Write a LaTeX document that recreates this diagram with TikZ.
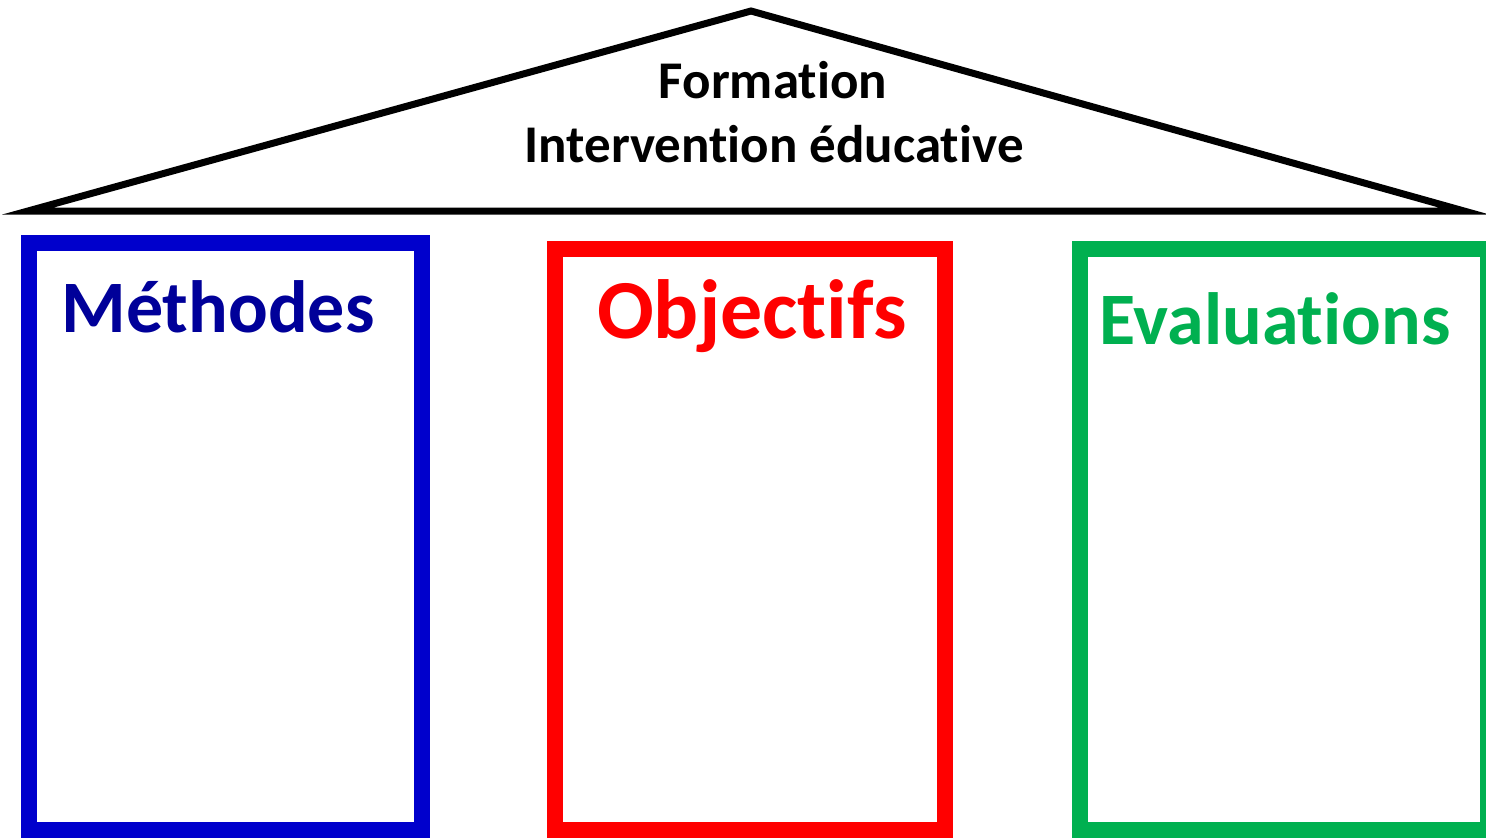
\documentclass[tikz,border=0pt]{standalone}
\usepackage{fontspec}
\setmainfont{Carlito}[Ligatures=NoCommon]
\definecolor{mblue}{RGB}{0,0,204}
\definecolor{mbluetext}{RGB}{0,0,153}
\definecolor{mred}{RGB}{255,0,0}
\definecolor{mgreen}{RGB}{0,176,80}
\tikzset{
  pillar/.style={draw, line width=15.5pt, minimum height=581pt, inner sep=0pt, outer sep=0pt, fill=white},
  roof/.style={draw=black, line width=7pt, line join=miter, miter limit=30},
  title/.style={anchor=base, inner sep=0pt, font=\bfseries}
}
\begin{document}
\begin{tikzpicture}[x=1pt,y=-1pt]
\useasboundingbox (0,0) rectangle (1486,838);
\clip (0,0) rectangle (1486,838);
\fill[white] (0,0) rectangle (1486,838);
% roof
\coordinate (rl) at (28,211);
\coordinate (ra) at (751,11);
\coordinate (rr) at (1464,211);
\draw[roof] (rl) -- (ra) -- (rr) -- cycle;
\node[title, font=\bfseries\fontsize{53}{63}\selectfont] (f1) at (773,98) {Formation};
\node[title, font=\bfseries\fontsize{53}{63}\selectfont] (f2) at (774,162) {Intervention éducative};
% pillars
\node[pillar, draw=mblue, minimum width=393pt, minimum height=587pt] (b1) at (225.5,536.5) {};
\node[pillar, draw=mred, minimum width=390pt] (b2) at (750,539.5) {};
\node[pillar, draw=mgreen, minimum width=408pt] (b3) at (1284,539.5) {};
\node[title, text=mbluetext, font=\bfseries\fontsize{74}{88}\selectfont] (t1) at (218,332) {Méthodes};
\node[title, text=mred, font=\bfseries\fontsize{84}{100}\selectfont] (t2) at (752,338) {Objectifs};
\node[title, text=mgreen, font=\bfseries\fontsize{74}{88}\selectfont] (t3) at (1275,344) {Evaluations};
\end{tikzpicture}
\end{document}
